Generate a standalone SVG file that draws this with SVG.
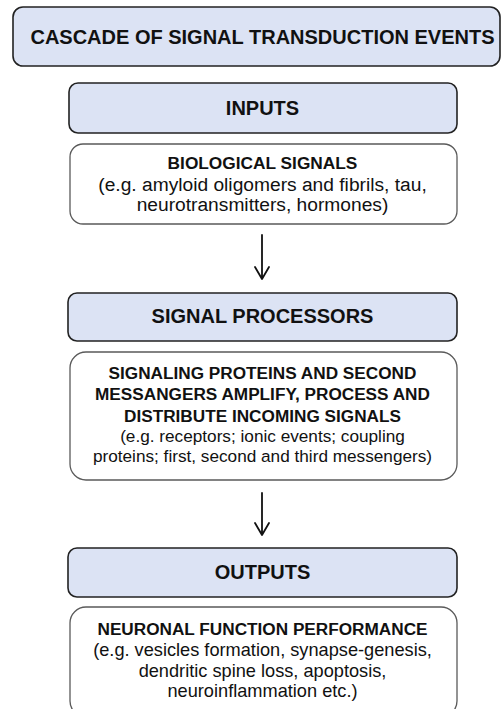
<svg xmlns="http://www.w3.org/2000/svg" width="502" height="709" viewBox="0 0 502 709">
  <style>
    .hdr { fill: #dce3f4; stroke: #222; stroke-width: 1.6; }
    .box { fill: #fff; stroke: #5a5a5a; stroke-width: 1.3; }
    .t { font-family: "Liberation Sans", Arial, sans-serif; fill: #111; text-anchor: middle; }
    .b { font-weight: bold; }
    .h { font-size: 20px; }
    .conn { stroke: #111; stroke-width: 1.8; fill: none; stroke-linecap: round; stroke-linejoin: round; }
  </style>
  <rect width="502" height="709" fill="#fff"/>

  <g id="title">
    <rect class="hdr" x="13" y="7" width="487" height="59" rx="10"/>
    <text class="t b h" x="262.5" y="43.5">CASCADE OF SIGNAL TRANSDUCTION EVENTS</text>
  </g>

  <g id="inputs">
    <rect class="hdr" x="69" y="83" width="388" height="50" rx="9"/>
    <text class="t b h" x="262.5" y="115">INPUTS</text>
  </g>

  <g id="biological-signals">
    <rect class="box" x="70" y="144" width="387" height="80" rx="13"/>
    <text class="t b" x="262.5" y="168.5" font-size="17.3">BIOLOGICAL SIGNALS</text>
    <text class="t" x="262.5" y="191" font-size="19.2">(e.g. amyloid oligomers and fibrils, tau,</text>
    <text class="t" x="262.5" y="211" font-size="19.2">neurotransmitters, hormones)</text>
  </g>

  <g id="signal-processors">
    <rect class="hdr" x="68" y="293" width="389" height="48" rx="9"/>
    <text class="t b h" x="262.5" y="323">SIGNAL PROCESSORS</text>
  </g>

  <g id="signaling-proteins" font-size="17.2">
    <rect class="box" x="70" y="352" width="387" height="128" rx="16"/>
    <text class="t b" x="262.5" y="379">SIGNALING PROTEINS AND SECOND</text>
    <text class="t b" x="262.5" y="400">MESSANGERS AMPLIFY, PROCESS AND</text>
    <text class="t b" x="262.5" y="421.5">DISTRIBUTE INCOMING SIGNALS</text>
    <text class="t" x="262.5" y="441.5">(e.g. receptors; ionic events; coupling</text>
    <text class="t" x="262.5" y="461.5">proteins; first, second and third messengers)</text>
  </g>

  <g id="outputs">
    <rect class="hdr" x="68" y="548" width="389" height="49" rx="9"/>
    <text class="t b h" x="262.5" y="579">OUTPUTS</text>
  </g>

  <g id="neuronal-function">
    <rect class="box" x="70" y="607" width="387" height="110" rx="16"/>
    <text class="t b" x="262.5" y="635" font-size="17.2">NEURONAL FUNCTION PERFORMANCE</text>
    <text class="t" x="262.5" y="656" font-size="18.2">(e.g. vesicles formation, synapse-genesis,</text>
    <text class="t" x="262.5" y="676.5" font-size="18.2">dendritic spine loss, apoptosis,</text>
    <text class="t" x="262.5" y="697" font-size="18.2">neuroinflammation etc.)</text>
  </g>

  <g id="connectors">
    <path class="conn" d="M262 235 V278 M255 267 L262 279 L269 267"/>
    <path class="conn" d="M262 493 V534 M255 523 L262 535 L269 523"/>
  </g>
</svg>
